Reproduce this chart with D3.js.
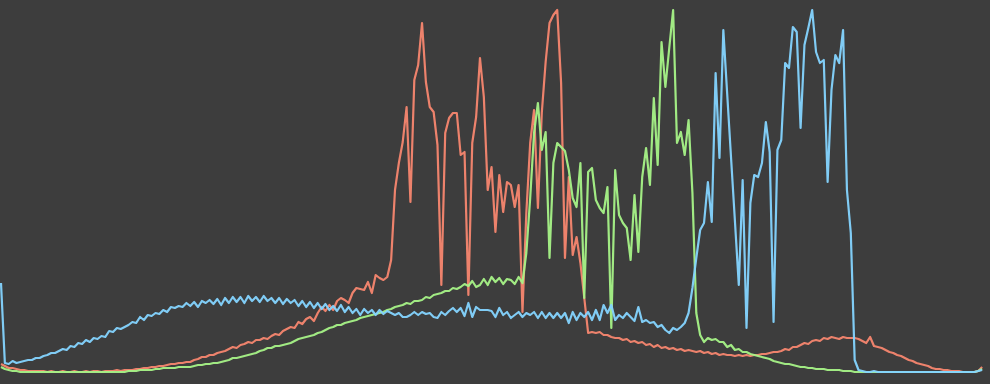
<!DOCTYPE html>
<html>
<head>
<meta charset="utf-8">
<script src="https://cdn.jsdelivr.net/npm/d3@7"></script>
<style>
  html, body { margin: 0; padding: 0; background: #3d3d3d; }
  svg { display: block; }
</style>
</head>
<body>
<svg id="chart"></svg>
<script>
// histogram bins 0..255, counts (arbitrary units)
const bins = d3.range(256);

const red = [
  9,7,5,5,4,3,3,2,2,2, 2,2,1,2,1,1,2,1,1,2, 1,1,2,1,2,2,1,2,2,2,
  3,2,3,3,3,4,4,5,5,6, 6,7,7,8,9,9,10,10,11,11, 13,14,16,16,18,18,20,21,22,24,
  26,25,28,29,31,30,33,33,35,34, 37,39,38,42,44,46,45,51,49,54, 56,52,60,66,62,68,63,72,75,73,
  70,80,85,84,83,91,80,98,95,93, 96,113,183,210,231,266,171,293,308,350, 291,266,261,228,88,240,255,260,260,218,
  221,78,230,256,315,276,183,206,141,198, 161,191,188,166,188,61,160,230,263,165, 260,311,350,358,363,290,115,196,118,136,
  110,75,40,41,40,41,38,38,36,35, 35,33,34,31,32,30,31,28,29,26, 28,25,26,24,25,23,24,22,23,22,
  21,22,20,21,19,20,18,19,18,18, 17,18,17,18,17,18,18,19,19,20, 21,21,22,24,23,26,26,28,30,29,
  32,33,32,35,34,36,35,34,36,35, 35,35,34,32,30,36,27,26,25,23, 21,20,18,17,15,13,12,10,9,8,
  7,5,4,4,3,3,2,2,2,1, 1,1,1,2,6
];

const green = [
  6,4,3,2,2,1,1,1,1,1, 1,1,1,1,1,1,1,1,1,1, 1,1,1,1,1,1,1,1,1,1,
  1,1,1,2,2,2,3,3,3,3, 4,4,5,5,5,5,6,6,6,6, 7,8,8,9,9,10,10,11,12,13,
  15,15,16,17,18,19,20,22,23,25, 25,27,27,28,29,30,32,34,35,36, 37,38,40,41,43,45,46,48,48,50,
  51,52,53,55,56,57,58,59,60,61, 63,64,66,67,68,70,69,72,72,73, 76,75,78,79,80,82,82,85,84,86,
  89,87,92,86,88,94,88,96,91,95, 89,94,93,89,96,90,120,175,240,270, 223,241,115,210,230,226,222,203,175,166,
  210,75,201,205,173,165,160,186,45,203, 158,150,145,113,178,121,196,225,188,275, 208,331,286,325,363,230,241,218,253,180,
  60,38,31,35,33,34,31,31,26,28, 23,24,21,21,19,18,17,16,15,14, 12,11,10,9,9,8,7,6,6,5,
  5,4,4,4,3,3,3,3,2,2, 2,1,1,1,1,1,1,1,1,1, 1,1,1,1,1,1,1,1,1,1,
  1,1,1,1,1,1,1,1,1,1, 1,1,1,2,4
];

const blue = [
  90,10,9,12,10,11,12,13,13,15, 15,17,18,20,20,22,24,23,27,26, 30,29,33,31,35,34,37,36,42,41,
  45,44,46,48,51,50,56,53,58,57, 60,59,63,61,66,65,67,66,70,67, 71,66,72,70,73,69,74,68,75,70,
  76,71,76,70,77,72,76,71,77,72, 75,70,75,69,74,70,73,67,72,66, 71,65,70,64,69,63,67,62,68,61,
  66,60,64,58,64,60,63,58,63,59, 62,60,58,60,56,56,58,61,58,61, 59,60,56,55,61,58,62,65,61,65,
  57,70,56,66,63,63,63,62,56,65, 58,61,55,58,61,56,60,58,61,55, 61,55,60,55,60,55,60,50,61,53,
  60,56,61,53,63,53,68,60,68,53, 58,55,60,56,52,66,51,53,50,51, 46,48,43,40,45,43,46,50,60,85,
  115,143,150,191,151,300,215,343,279,215, 152,88,193,45,170,198,196,210,251,221, 51,223,233,310,305,346,341,245,328,345,
  363,321,310,313,191,283,318,310,343,183, 140,13,3,2,1,1,2,1,1,1, 1,1,1,1,1,1,1,1,1,1,
  1,1,1,1,1,1,1,1,1,1, 1,1,1,2,3
];

const series = [
  { name: "red",   values: red,   color: "#f7866f" },
  { name: "green", values: green, color: "#a6f387" },
  { name: "blue",  values: blue,  color: "#84d4ff" }
];

const width = 990;
const height = 384;

const xScale = d3.scaleLinear().domain([0, 255]).range([1, 986]);
const yScale = d3.scaleLinear().domain([0, 363]).range([373, 10]);

const svg = d3.select("#chart")
  .attr("width", width)
  .attr("height", height)
  .attr("viewBox", [0, 0, width, height]);

svg.append("rect")
  .attr("width", width)
  .attr("height", height)
  .attr("fill", "#3d3d3d");

const line = d3.line()
  .x((d, i) => xScale(bins[i]))
  .y(d => yScale(d));

svg.selectAll("path.channel")
  .data(series)
  .join("path")
  .attr("class", "channel")
  .attr("fill", "none")
  .attr("stroke", d => d.color)
  .attr("stroke-width", 2.2)
  .attr("stroke-linejoin", "round")
  .attr("stroke-opacity", 0.95)
  .attr("d", d => line(d.values));
</script>
</body>
</html>
